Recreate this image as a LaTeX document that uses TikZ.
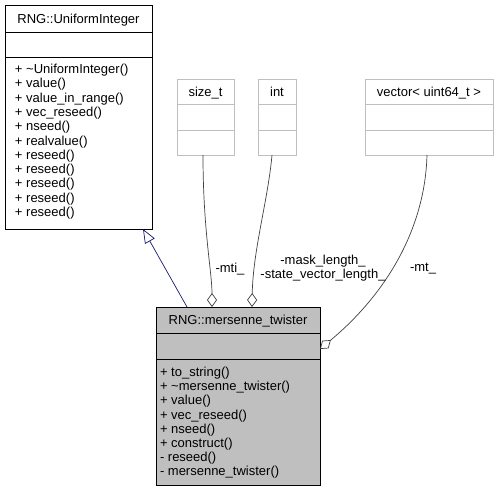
\documentclass[tikz,border=0pt]{standalone}
\usepackage{fontspec}
\setmainfont{Liberation Sans}
\usetikzlibrary{arrows.meta,calc}
\definecolor{lightborder}{HTML}{BFBFBF}
\definecolor{aggr}{HTML}{404040}
\definecolor{inh}{HTML}{191970}
\begin{document}
\begin{tikzpicture}[x=1pt,y=-1pt,
  every node/.style={inner sep=0pt,outer sep=0pt},
  txt/.style={font=\fontsize{13}{14}\selectfont,anchor=base west},
  ttl/.style={font=\fontsize{13}{14}\selectfont,anchor=base},
  cls/.style={draw=black,line width=0.8pt,fill=white,rectangle},
  hcls/.style={draw=black,line width=0.8pt,fill=lightborder,rectangle},
  lcls/.style={draw=lightborder,line width=0.8pt,fill=white,rectangle},
  aggline/.style={draw=aggr,line width=0.7pt,{Diamond[open,length=14pt,width=10pt,line width=0.7pt]}-},
  inhline/.style={draw=inh,line width=0.7pt,-{Triangle[open,length=14pt,width=11pt,line width=0.7pt]}},
  lbl/.style={font=\fontsize{13}{14}\selectfont,anchor=base}]
\useasboundingbox (0,0) rectangle (499,493);
% UniformInteger
\node[cls,minimum width=147pt,minimum height=224pt] (ui) at (78.5,117) {};
\draw[line width=0.8pt] (5,32) -- (152,32) (5,57) -- (152,57);
\node[ttl] (uit) at (78.5,23) {RNG::UniformInteger};
\foreach \t [count=\i from 0] in {+ \textasciitilde UniformInteger(),+ value(),+ value\_in\_range(),+ vec\_reseed(),+ nseed(),+ realvalue(),+ reseed(),+ reseed(),+ reseed(),+ reseed(),+ reseed()}
  \node[txt] (uim\i) at (15,73.5+14.3*\i) {\t};
% mersenne_twister
\node[hcls,minimum width=164pt,minimum height=178pt] (mt) at (238,396) {};
\draw[line width=0.8pt] (156,333) -- (320,333) (156,359) -- (320,359);
\node[ttl] (mtt) at (238,324) {RNG::mersenne\_twister};
\foreach \t [count=\i from 0] in {+ to\_string(),+ \textasciitilde mersenne\_twister(),+ value(),+ vec\_reseed(),+ nseed(),+ construct(),- reseed(),- mersenne\_twister()}
  \node[txt] (mtm\i) at (160,376.5+14.2*\i) {\t};
% size_t
\node[lcls,minimum width=57pt,minimum height=76pt] (st) at (205.5,117) {};
\draw[lightborder,line width=0.8pt] (177,104) -- (234,104) (177,130) -- (234,130);
\node[ttl] (stt) at (205.5,96) {size\_t};
% int
\node[lcls,minimum width=38pt,minimum height=76pt] (in) at (277,117) {};
\draw[lightborder,line width=0.8pt] (258,104) -- (296,104) (258,130) -- (296,130);
\node[ttl] (intt) at (277,96) {int};
% vector
\node[lcls,minimum width=128pt,minimum height=76pt] (ve) at (429,117) {};
\draw[lightborder,line width=0.8pt] (365,104) -- (493,104) (365,130) -- (493,130);
\node[ttl] (vet) at (429,96) {vector< uint64\_t >};
% connectors
\coordinate (a1) at ($(mt.north west)+(56,0)$);
\coordinate (a2) at ($(mt.north west)+(96,0)$);
\coordinate (a3) at ($(mt.north east)+(0,42)$);
\coordinate (b1) at ($(st.south west)+(26,0)$);
\coordinate (b2) at ($(in.south west)+(14,0)$);
\coordinate (b3) at ($(ve.south west)+(62,0)$);
\coordinate (c0) at ($(mt.north west)+(31,0)$);
\coordinate (c1) at ($(ui.south west)+(138,0)$);
\draw[aggline] (a1) .. controls (212,272) and (203,230) .. (b1);
\draw[aggline] (a2) .. controls (253,250) and (268,200) .. (b2);
\draw[aggline] (a3) .. controls (385,295) and (425,230) .. (b3);
\draw[inhline] (c0) -- (c1);
% labels
\node[lbl] (l1) at (230,272.5) {-mti\_};
\node[lbl] (l2) at (323,264.5) {-mask\_length\_};
\node[lbl] (l3) at (323,278.5) {-state\_vector\_length\_};
\node[lbl] (l4) at (423,271.5) {-mt\_};
\end{tikzpicture}
\end{document}
